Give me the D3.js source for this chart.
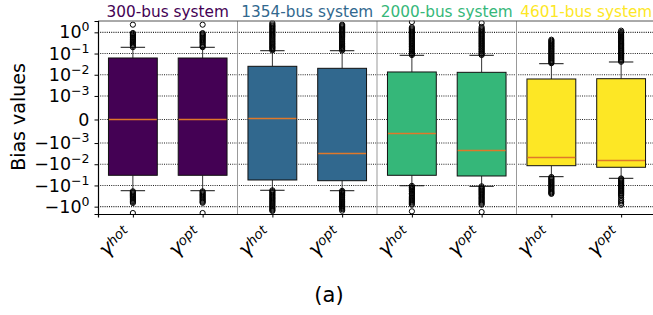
<!DOCTYPE html>
<html>
<head>
<meta charset="utf-8">
<script src="https://cdn.jsdelivr.net/npm/d3@7"></script>
<style>
  html, body { margin: 0; padding: 0; background: #fff; }
  svg { display: block; }
  text { font-family: "DejaVu Sans", sans-serif; }
</style>
</head>
<body>
<svg id="chart" width="653" height="315"></svg>
<script>
// ---------------- data ----------------
const systems = ["300-bus system", "1354-bus system", "2000-bus system", "4601-bus system"];
const systemColors = ["#440154", "#31688e", "#35b779", "#fde725"];
const methods = ["hot", "opt"];

// one entry per box (system × method), in plotting order
const q1      = [-0.0332, -0.0332, -0.0553, -0.0597, -0.0332, -0.0358, -0.0117, -0.0139];
const median  = [0, 0, 0.00005, -0.00285, -0.000573, -0.00213, -0.00455, -0.0061];
const q3      = [0.0617, 0.0615, 0.025, 0.0201, 0.0135, 0.013, 0.0063, 0.0065];
const whiskLo = [-0.177, -0.177, -0.169, -0.177, -0.103, -0.11, -0.0386, -0.046];
const whiskHi = [0.197, 0.197, 0.136, 0.136, 0.0826, 0.0826, 0.0332, 0.0399];

const fliersHi = [
  [0.2, 0.23, 0.26, 0.3, 0.34, 0.38, 0.43, 0.48, 0.54, 0.6, 0.68, 0.76, 0.85, 0.93, 2.3],
  [0.2, 0.22, 0.25, 0.29, 0.33, 0.37, 0.42, 0.47, 0.53, 0.6, 0.67, 0.75, 0.84, 0.92, 2.3],
  [0.14, 0.16, 0.18, 0.2, 0.22, 0.25, 0.28, 0.31, 0.35, 0.39, 0.44, 0.49, 0.55, 0.62, 0.69, 0.77, 0.86, 0.97, 1.08, 1.2, 1.35, 1.5, 1.7, 1.9, 2.1, 2.4, 2.76],
  [0.14, 0.16, 0.18, 0.2, 0.22, 0.25, 0.28, 0.31, 0.35, 0.39, 0.44, 0.49, 0.55, 0.62, 0.69, 0.77, 0.86, 0.97, 1.08, 1.2, 1.35, 1.5, 1.7, 1.9, 2.1, 2.3],
  [0.085, 0.095, 0.105, 0.12, 0.13, 0.15, 0.165, 0.185, 0.21, 0.23, 0.26, 0.29, 0.32, 0.36, 0.4, 0.45, 0.5, 0.56, 0.63, 0.7, 0.78, 0.87, 0.98, 1.1, 1.22, 1.37, 1.53, 1.73, 3.08],
  [0.085, 0.095, 0.105, 0.12, 0.13, 0.15, 0.165, 0.185, 0.21, 0.23, 0.26, 0.29, 0.32, 0.36, 0.4, 0.45, 0.5, 0.56, 0.63, 0.7, 0.78, 0.87, 0.98, 1.1, 1.22, 1.37, 1.53, 1.8, 2.76],
  [0.035, 0.039, 0.044, 0.049, 0.055, 0.061, 0.068, 0.076, 0.085, 0.095, 0.106, 0.12, 0.133, 0.15, 0.166, 0.186, 0.21, 0.23, 0.26, 0.29, 0.32, 0.36, 0.4, 0.45],
  [0.041, 0.046, 0.051, 0.057, 0.064, 0.071, 0.08, 0.089, 0.1, 0.11, 0.125, 0.14, 0.155, 0.175, 0.195, 0.22, 0.24, 0.27, 0.3, 0.34, 0.38, 0.42, 0.47, 0.53, 0.59, 0.66, 0.74, 0.83, 0.93, 1.04, 1.2]
];
const fliersLo = [
  [-0.19, -0.21, -0.24, -0.27, -0.3, -0.34, -0.38, -0.43, -0.48, -0.54, -0.6, -0.67, -2.0],
  [-0.19, -0.21, -0.24, -0.27, -0.3, -0.34, -0.38, -0.43, -0.48, -0.54, -0.6, -0.66, -2.0],
  [-0.17, -0.19, -0.21, -0.24, -0.27, -0.3, -0.34, -0.38, -0.42, -0.47, -0.53, -0.59, -0.66, -0.74, -0.83, -0.93, -1.04, -1.16, -1.3, -1.45, -1.6],
  [-0.18, -0.2, -0.22, -0.25, -0.28, -0.31, -0.35, -0.39, -0.44, -0.49, -0.55, -0.61, -0.68, -0.76, -0.85, -0.95, -1.06, -1.18, -1.32, -1.55],
  [-0.105, -0.12, -0.13, -0.145, -0.16, -0.18, -0.2, -0.23, -0.25, -0.28, -0.32, -0.36, -0.4, -0.45, -0.5, -0.56, -0.63, -0.72, -0.81, -1.66],
  [-0.11, -0.125, -0.14, -0.155, -0.17, -0.19, -0.21, -0.235, -0.26, -0.29, -0.33, -0.37, -0.41, -0.46, -0.52, -0.58, -0.65, -0.73, -0.81, -1.79],
  [-0.04, -0.045, -0.05, -0.056, -0.063, -0.07, -0.078, -0.087, -0.097, -0.11, -0.12, -0.135, -0.15, -0.17, -0.19, -0.21, -0.23, -0.25],
  [-0.047, -0.052, -0.058, -0.065, -0.072, -0.08, -0.09, -0.1, -0.11, -0.125, -0.14, -0.155, -0.175, -0.195, -0.22, -0.245, -0.275, -0.31, -0.38, -0.47, -0.56, -0.67, -0.81]
];

const yTickValues = [1, 0.1, 0.01, 0.001, 0, -0.001, -0.01, -0.1, -1];
const yTickBase   = ["10", "10", "10", "10", "0", "\u221210", "\u221210", "\u221210", "\u221210"];
const yTickExp    = ["0", "\u22121", "\u22122", "\u22123", "", "\u22123", "\u22122", "\u22121", "0"];
const yLabel = "Bias values";
const caption = "(a)";

// ---------------- scales ----------------
const linthresh = 1e-3;
const linscaleAdj = 1 / (1 - 1 / 10);
function symlog(v) {
  const a = Math.abs(v);
  return a <= linthresh ? (v / linthresh) * linscaleAdj
                        : Math.sign(v) * (linscaleAdj + Math.log10(a / linthresh));
}

const plot = { left: 98, right: 656, top: 21, bottom: 214 };
const yLin = d3.scaleLinear().domain([-4.458, 4.646]).range([plot.bottom, plot.top]);
const yScale = Object.assign(v => yLin(symlog(v)), {
  copy() { return yScale; },
  range() { return yLin.range(); },
  domain() { return yLin.domain(); }
});
const nBoxes = q1.length;
const x = d3.scaleLinear().domain([0.5, nBoxes + 0.5]).range([plot.left, plot.right]);
const boxW = x(1.35) - x(0.65);

const svg = d3.select("#chart");

// horizontal dotted grid
svg.append("g").selectAll("line").data(yTickValues).join("line")
  .attr("x1", plot.left).attr("x2", plot.right)
  .attr("y1", d => yScale(d)).attr("y2", d => yScale(d))
  .attr("stroke", "#222").attr("stroke-width", 1.1).attr("stroke-dasharray", "1,1.2");

// group separators
svg.append("g").selectAll("line").data(d3.range(1, systems.length)).join("line")
  .attr("x1", d => x(d * 2 + 0.5)).attr("x2", d => x(d * 2 + 0.5))
  .attr("y1", plot.top).attr("y2", plot.bottom)
  .attr("stroke", "#999").attr("stroke-width", 1);

// boxes
const boxes = d3.range(nBoxes).map(i => ({
  i, pos: i + 1, color: systemColors[Math.floor(i / 2)],
  q1: q1[i], med: median[i], q3: q3[i], lo: whiskLo[i], hi: whiskHi[i],
  fl: fliersHi[i].concat(fliersLo[i])
}));

const g = svg.append("g").selectAll("g").data(boxes).join("g");
// whiskers
g.append("line").attr("x1", d => x(d.pos)).attr("x2", d => x(d.pos))
  .attr("y1", d => yScale(d.q3)).attr("y2", d => yScale(d.hi)).attr("stroke", "#333");
g.append("line").attr("x1", d => x(d.pos)).attr("x2", d => x(d.pos))
  .attr("y1", d => yScale(d.q1)).attr("y2", d => yScale(d.lo)).attr("stroke", "#333");
// caps
g.append("line").attr("x1", d => x(d.pos) - boxW / 4).attr("x2", d => x(d.pos) + boxW / 4)
  .attr("y1", d => yScale(d.hi)).attr("y2", d => yScale(d.hi)).attr("stroke", "#111");
g.append("line").attr("x1", d => x(d.pos) - boxW / 4).attr("x2", d => x(d.pos) + boxW / 4)
  .attr("y1", d => yScale(d.lo)).attr("y2", d => yScale(d.lo)).attr("stroke", "#111");
// box
g.append("rect").attr("x", d => x(d.pos) - boxW / 2).attr("width", boxW)
  .attr("y", d => yScale(d.q3)).attr("height", d => yScale(d.q1) - yScale(d.q3))
  .attr("fill", d => d.color).attr("stroke", "#111").attr("stroke-width", 1);
// median
g.append("line").attr("x1", d => x(d.pos) - boxW / 2 + 0.5).attr("x2", d => x(d.pos) + boxW / 2 - 0.5)
  .attr("y1", d => Math.round(yScale(d.med)) + 0.5).attr("y2", d => Math.round(yScale(d.med)) + 0.5)
  .attr("stroke", "#e0782a").attr("stroke-width", 1.3);
// fliers
g.selectAll("circle").data(d => d.fl.map(v => ({ v, pos: d.pos }))).join("circle")
  .attr("cx", d => x(d.pos)).attr("cy", d => yScale(d.v)).attr("r", 2.6)
  .attr("fill", "none").attr("stroke", "#000").attr("stroke-width", 1);

// cover area outside the axes (clip fliers)
svg.append("rect").attr("x", 0).attr("y", 0).attr("width", 653).attr("height", plot.top - 0.5).attr("fill", "#fff");
svg.append("rect").attr("x", 0).attr("y", plot.bottom + 0.5).attr("width", 653).attr("height", 315 - plot.bottom).attr("fill", "#fff");

// frame
svg.append("line").attr("x1", plot.left).attr("x2", plot.right).attr("y1", plot.top).attr("y2", plot.top)
  .attr("stroke", "#555").attr("stroke-width", 1);

// y axis
const yAxis = svg.append("g").attr("transform", `translate(${plot.left},0)`)
  .call(d3.axisLeft(yScale).tickValues(yTickValues).tickSize(3.5).tickPadding(5).tickFormat(() => ""));
yAxis.select(".domain").attr("stroke", "#000").attr("stroke-width", 1.2);
yAxis.selectAll(".tick text").each(function(d, k) {
  const t = d3.select(this).attr("font-size", 17.5).attr("font-family", "DejaVu Sans").attr("dy", "0.32em").attr("fill", "#000");
  t.append("tspan").text(yTickBase[k]);
  if (yTickExp[k]) t.append("tspan").attr("font-size", 12.5).attr("dy", -7).text(yTickExp[k]);
});

// x axis
const xAxis = svg.append("g").attr("transform", `translate(0,${plot.bottom})`)
  .call(d3.axisBottom(x).tickValues(d3.range(1, nBoxes + 1)).tickSize(3.5).tickFormat(() => ""));
xAxis.select(".domain").attr("stroke", "#000").attr("stroke-width", 1.2);
xAxis.selectAll(".tick text").remove();
xAxis.selectAll(".tick").append("text")
  .attr("text-anchor", "end").attr("fill", "#000")
  .attr("transform", "translate(-2.5,19.5) rotate(-45)")
  .each(function(d) {
    const t = d3.select(this);
    t.append("tspan").attr("font-size", 20).attr("font-style", "italic").text("\u03b3");
    t.append("tspan").attr("font-size", 13.5).attr("font-style", "italic").attr("dy", -3.5).text(methods[(d - 1) % 2]);
  });

// system titles
svg.append("g").selectAll("text").data(systems).join("text")
  .attr("x", (d, i) => x(i * 2 + 1.5)).attr("y", 17)
  .attr("text-anchor", "middle").attr("font-size", 15.3)
  .attr("fill", (d, i) => systemColors[i]).text(d => d);

// y label
svg.append("text").attr("transform", "translate(25,117) rotate(-90)")
  .attr("text-anchor", "middle").attr("font-size", 19).text(yLabel);

// caption
svg.append("text").attr("x", 329).attr("y", 302).attr("text-anchor", "middle")
  .attr("font-family", "Liberation Sans, Arial, sans-serif").attr("font-size", 21).text(caption);
</script>
</body>
</html>
